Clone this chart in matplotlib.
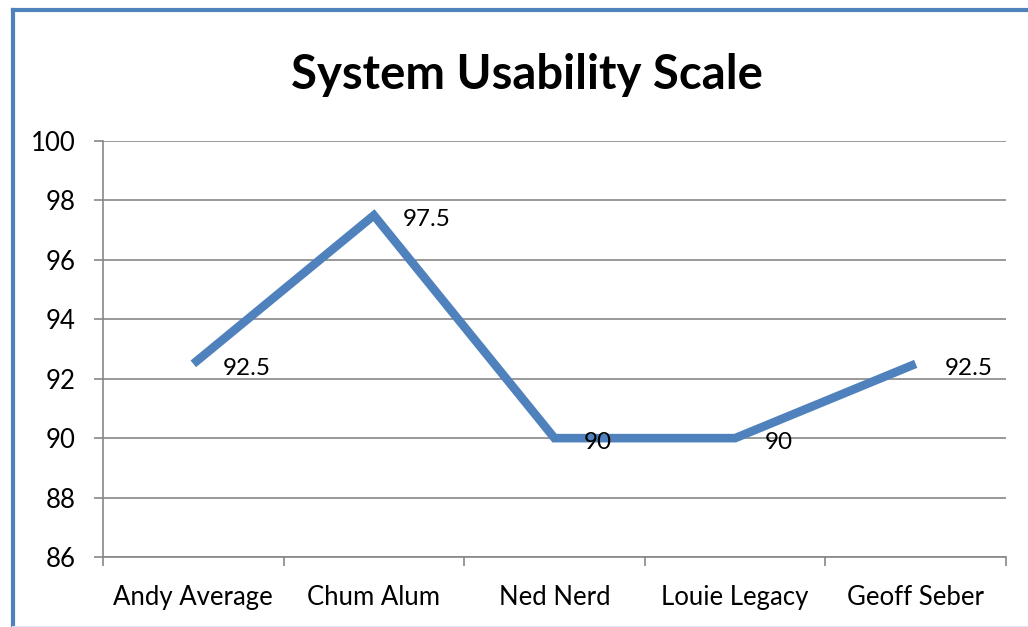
import matplotlib
matplotlib.use("Agg")
import matplotlib.pyplot as plt
from matplotlib.lines import Line2D

categories = ["Andy Average", "Chum Alum", "Ned Nerd", "Louie Legacy", "Geoff Seber"]
scores = [92.5, 97.5, 90, 90, 92.5]
score_labels = ["92.5", "97.5", "90", "90", "92.5"]
yticks = [86, 88, 90, 92, 94, 96, 98, 100]

plt.rcParams['font.family'] = ['Lato', 'DejaVu Sans']

W, H = 1028, 627
fig = plt.figure(figsize=(W/100, H/100), dpi=100)
fig.patch.set_facecolor('white')

ax = fig.add_axes([103/W, 1-557/H, (1006-103)/W, (557-141)/H])
x = list(range(len(categories)))
blue = '#4F81BD'
ax.plot(x, scores, color=blue, lw=6.2, solid_joinstyle='miter', solid_capstyle='butt', zorder=3)
for xi, v, lab in zip(x, scores, score_labels):
    ax.annotate(lab, (xi, v), xytext=(21, -3), textcoords='offset points',
                ha='left', va='center', fontsize=17.5, color='black', zorder=4)

ax.set_xlim(-0.5, len(categories)-0.5)
ax.set_ylim(86, 100)
ax.set_yticks(yticks)
ax.set_yticklabels([str(t) for t in yticks], fontsize=18.5)
ax.yaxis.grid(True, color='#878787', lw=1.2)
ax.set_axisbelow(True)
ax.set_xticks(x)
ax.set_xticklabels(categories, fontsize=18.5)
ax.tick_params(axis='x', length=0, pad=20.5)
ax.set_xticks([i-0.5 for i in range(len(categories)+1)], minor=True)
ax.tick_params(axis='x', which='minor', length=6.5, color='#878787', width=1.2)
ax.tick_params(axis='y', length=6.5, color='#878787', width=1.2, pad=13)
for s in ['top', 'right']:
    ax.spines[s].set_visible(False)
for s in ['left', 'bottom']:
    ax.spines[s].set_color('#878787')
    ax.spines[s].set_linewidth(1.2)

fig.text(527/W, 1-75/H, "System Usability Scale", ha='center', va='center',
         fontsize=34, fontweight='bold', color='black')

# chart-area border (left and top edges visible)
fig.add_artist(Line2D([13/W, 13/W], [1-10/H, 0], transform=fig.transFigure, color=blue, lw=3))
fig.add_artist(Line2D([13/W, 1], [1-10/H, 1-10/H], transform=fig.transFigure, color=blue, lw=3))
fig.add_artist(Line2D([13/W, 1], [0.5/H, 0.5/H], transform=fig.transFigure, color='#DCE6F2', lw=1.5))

fig.savefig('out.png', dpi=100, facecolor='white')
